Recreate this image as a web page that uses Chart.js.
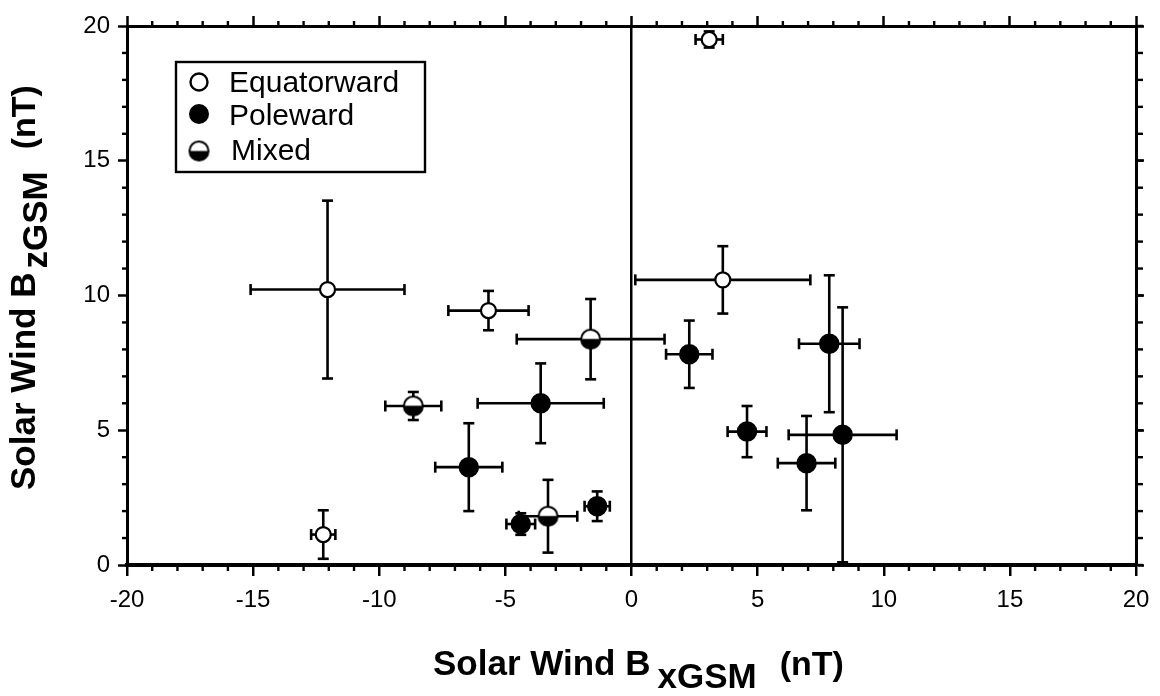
<!DOCTYPE html>
<html>
<head>
<meta charset="utf-8">
<script src="https://cdn.jsdelivr.net/npm/chart.js@4.4.0/dist/chart.umd.min.js"></script>
<style>
html, body { margin: 0; padding: 0; background: #fff; }
</style>
</head>
<body>
<canvas id="myChart" width="1160" height="696"></canvas>
<script>
// values (nT)
var seriesNames = ['Equatorward', 'Poleward', 'Mixed'];

var equatorX    = [3.08, 3.62, -12.05, -5.67, -12.22];
var equatorY    = [19.5, 10.58, 10.22, 9.44, 1.13];
var equatorXErr = [0.54, 3.47, 3.05, 1.59, 0.48];
var equatorYErr = [0.3, 1.25, 3.3, 0.73, 0.9];

var poleX    = [2.29, 7.84, 4.58, 8.37, 6.94, -1.36, -3.6, -6.45, -4.39];
var poleY    = [7.82, 8.21, 4.95, 4.83, 3.78, 2.18, 6.0, 3.63, 1.52];
var poleXErr = [0.92, 1.2, 0.77, 2.14, 1.14, 0.5, 2.5, 1.33, 0.57];
var poleYErr = [1.25, 2.54, 0.95, 4.73, 1.75, 0.55, 1.48, 1.63, 0.4];

var mixedX    = [-1.62, -8.65, -3.31];
var mixedY    = [8.38, 5.9, 1.81];
var mixedXErr = [2.93, 1.11, 1.16];
var mixedYErr = [1.49, 0.52, 1.35];

var xTicks = [-20, -15, -10, -5, 0, 5, 10, 15, 20];
var yTicks = [0, 5, 10, 15, 20];

var FONT = '"Liberation Sans", Arial, Helvetica, sans-serif';

function points(xs, ys) {
    return xs.map(function (x, i) { return { x: x, y: ys[i] }; });
}

// half open / half filled circle for the "Mixed" class
function halfCircle(r) {
    var c = document.createElement('canvas');
    var s = Math.ceil(2 * r + 4);
    c.width = s; c.height = s;
    var g = c.getContext('2d');
    var m = s / 2;
    g.fillStyle = '#fff';
    g.beginPath(); g.arc(m, m, r, Math.PI, 0); g.fill();
    g.fillStyle = '#000';
    g.beginPath(); g.arc(m, m, r, 0, Math.PI); g.fill();
    g.lineWidth = 2; g.strokeStyle = '#000';
    g.beginPath(); g.arc(m, m, r, 0, 2 * Math.PI); g.stroke();
    return c;
}

function line(ctx, x1, y1, x2, y2) {
    ctx.beginPath(); ctx.moveTo(x1, y1); ctx.lineTo(x2, y2); ctx.stroke();
}

// error bars, drawn under the markers
var errorBars = {
    id: 'errorBars',
    beforeDatasetsDraw: function (chart) {
        var ctx = chart.ctx, xs = chart.scales.x, ys = chart.scales.y;
        var cap = 5.5;
        ctx.save();
        ctx.strokeStyle = '#000';
        ctx.lineWidth = 2.6;
        chart.data.datasets.forEach(function (ds) {
            ds.data.forEach(function (p, i) {
                var px = xs.getPixelForValue(p.x), py = ys.getPixelForValue(p.y);
                var x1 = xs.getPixelForValue(p.x - ds.xErr[i]);
                var x2 = xs.getPixelForValue(p.x + ds.xErr[i]);
                var y1 = ys.getPixelForValue(p.y - ds.yErr[i]);
                var y2 = ys.getPixelForValue(p.y + ds.yErr[i]);
                line(ctx, x1, py, x2, py);
                line(ctx, x1, py - cap, x1, py + cap);
                line(ctx, x2, py - cap, x2, py + cap);
                line(ctx, px, y1, px, y2);
                line(ctx, px - cap, y1, px + cap, y1);
                line(ctx, px - cap, y2, px + cap, y2);
            });
        });
        ctx.restore();
    }
};

// minor ticks every 1 nT on all four sides
var minorTicks = {
    id: 'minorTicks',
    afterDraw: function (chart) {
        var ctx = chart.ctx, a = chart.chartArea;
        ctx.save();
        ctx.strokeStyle = '#000';
        ctx.lineWidth = 2.4;
        for (var v = -20; v <= 20; v++) {
            if (v % 5 === 0) continue;
            var px = chart.scales.x.getPixelForValue(v);
            line(ctx, px, a.bottom, px, a.bottom + 6);
            line(ctx, px, a.top, px, a.top - 5);
        }
        for (var w = 0; w <= 20; w++) {
            var py = chart.scales.y.getPixelForValue(w);
            if (w % 5 !== 0) line(ctx, a.left - 5, py, a.left, py);
            line(ctx, a.right, py, a.right + 7, py);
        }
        ctx.restore();
    }
};

// axis titles with subscripts and the boxed legend
var titlesAndLegend = {
    id: 'titlesAndLegend',
    afterDraw: function (chart) {
        var ctx = chart.ctx;
        ctx.save();
        ctx.fillStyle = '#000';
        ctx.textBaseline = 'alphabetic';
        ctx.textAlign = 'left';

        // x title
        ctx.font = 'bold 35px ' + FONT;
        var x0 = 433;
        ctx.fillText('Solar Wind B', x0, 675);
        x0 += ctx.measureText('Solar Wind B').width + 7;
        ctx.fillText('xGSM', x0, 688);
        x0 += ctx.measureText('xGSM').width + 23;
        ctx.font = 'bold 34px ' + FONT;
        ctx.fillText('(nT)', x0, 675);

        // y title
        ctx.save();
        ctx.rotate(-Math.PI / 2);
        ctx.font = 'bold 35px ' + FONT;
        var y0 = 490;
        ctx.fillText('Solar Wind B', -y0, 35);
        y0 -= ctx.measureText('Solar Wind B').width + 4;
        ctx.fillText('zGSM', -y0, 47);
        y0 -= ctx.measureText('zGSM').width + 22;
        ctx.font = 'bold 34px ' + FONT;
        ctx.fillText('(nT)', -y0, 35);
        ctx.restore();

        // legend
        ctx.lineWidth = 2.4;
        ctx.strokeStyle = '#000';
        ctx.strokeRect(176, 62, 249, 110);
        var rows = [
            { my: 82, ty: 92, tx: 229 },
            { my: 114, ty: 125, tx: 229 },
            { my: 151, ty: 160, tx: 231 }
        ];
        ctx.font = '30px ' + FONT;
        chart.data.datasets.forEach(function (ds, i) {
            var r = rows[i], mx = 199;
            if (i === 0) {
                ctx.fillStyle = '#fff';
                ctx.beginPath(); ctx.arc(mx, r.my, 8.5, 0, 2 * Math.PI); ctx.fill(); ctx.stroke();
            } else if (i === 1) {
                ctx.fillStyle = '#000';
                ctx.beginPath(); ctx.arc(mx, r.my, 10, 0, 2 * Math.PI); ctx.fill();
            } else {
                var img = halfCircle(9.5);
                ctx.drawImage(img, mx - img.width / 2, r.my - img.height / 2);
            }
            ctx.fillStyle = '#000';
            ctx.fillText(ds.label, r.tx, r.ty);
        });
        ctx.restore();
    }
};

var tickFont = { family: FONT, size: 24 };

var data = {
    datasets: [
        {
            label: seriesNames[0],
            data: points(equatorX, equatorY),
            xErr: equatorXErr, yErr: equatorYErr,
            pointStyle: 'circle', pointRadius: 7.5,
            backgroundColor: '#fff', borderColor: '#000', borderWidth: 2.2
        },
        {
            label: seriesNames[1],
            data: points(poleX, poleY),
            xErr: poleXErr, yErr: poleYErr,
            pointStyle: 'circle', pointRadius: 9.5,
            backgroundColor: '#000', borderColor: '#000', borderWidth: 1.5
        },
        {
            label: seriesNames[2],
            data: points(mixedX, mixedY),
            xErr: mixedXErr, yErr: mixedYErr,
            pointStyle: halfCircle(9.5), pointRadius: 10,
            backgroundColor: '#fff', borderColor: '#000', borderWidth: 2
        }
    ]
};

var config = {
    type: 'scatter',
    data: data,
    options: {
        responsive: false,
        animation: false,
        events: [],
        devicePixelRatio: 1,
        layout: { padding: 0 },
        plugins: {
            legend: { display: false },
            tooltip: { enabled: false }
        },
        scales: {
            x: {
                type: 'linear', position: 'bottom', min: -20, max: 20,
                afterBuildTicks: function (s) { s.ticks = xTicks.map(function (v) { return { value: v }; }); },
                afterFit: function (s) { s.height = 131; },
                ticks: { font: tickFont, color: '#000', padding: 10, maxRotation: 0 },
                grid: {
                    color: function (c) { return c.tick && c.tick.value === 0 ? '#000' : 'rgba(0,0,0,0)'; },
                    lineWidth: 2.5, tickColor: '#000', tickWidth: 2.5, tickLength: 11
                },
                border: { display: true, color: '#000', width: 4 }
            },
            x2: {
                type: 'linear', position: 'top', min: -20, max: 20, display: true,
                afterBuildTicks: function (s) { s.ticks = xTicks.map(function (v) { return { value: v }; }); },
                afterFit: function (s) { s.height = 26; },
                ticks: { display: false },
                grid: { drawOnChartArea: false, tickColor: '#000', tickWidth: 2.5, tickLength: 10 },
                border: { display: true, color: '#000', width: 3 }
            },
            y: {
                type: 'linear', position: 'left', min: 0, max: 20,
                afterBuildTicks: function (s) { s.ticks = yTicks.map(function (v) { return { value: v }; }); },
                afterFit: function (s) { s.width = 127; },
                ticks: { font: tickFont, color: '#000', padding: 8 },
                grid: { color: 'rgba(0,0,0,0)', tickColor: '#000', tickWidth: 2.5, tickLength: 9 },
                border: { display: true, color: '#000', width: 3 }
            },
            y2: {
                type: 'linear', position: 'right', min: 0, max: 20, display: true,
                afterBuildTicks: function (s) { s.ticks = yTicks.map(function (v) { return { value: v }; }); },
                afterFit: function (s) { s.width = 24; },
                ticks: { display: false },
                grid: { drawOnChartArea: false, tickColor: '#000', tickWidth: 2.5, tickLength: 8 },
                border: { display: true, color: '#000', width: 3 }
            }
        }
    },
    plugins: [errorBars, minorTicks, titlesAndLegend]
};

var myChart = new Chart(document.getElementById('myChart'), config);
</script>
</body>
</html>
